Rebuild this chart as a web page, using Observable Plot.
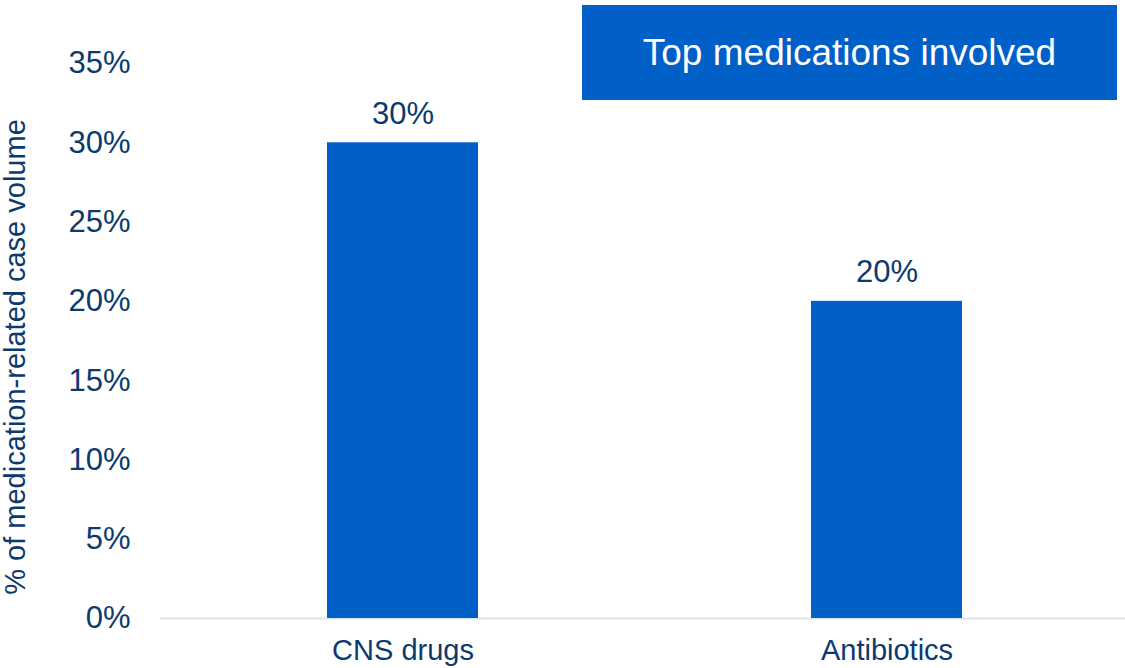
<!DOCTYPE html>
<html>
<head>
<meta charset="utf-8">
<script src="https://cdn.jsdelivr.net/npm/d3@7"></script>
<script src="https://cdn.jsdelivr.net/npm/@observablehq/plot@0.6"></script>
<style>
  html, body { margin: 0; padding: 0; background: #fff; }
  #wrap { position: relative; width: 1125px; height: 668px; font-family: "Liberation Sans", Arial, sans-serif; }
  #title { position: absolute; left: 582px; top: 5px; width: 535px; height: 95px; background: #0060C8; color: #fff;
           font-size: 37px; display: flex; align-items: center; justify-content: center; }
</style>
</head>
<body>
<div id="wrap">
  <div id="chart"></div>
  <div id="title">Top medications involved</div>
</div>
<script>
const categories = ["CNS drugs", "Antibiotics"];
const values = [30, 20];
const yTicks = [0, 5, 10, 15, 20, 25, 30, 35];
const titleText = "Top medications involved";
const yLabel = "% of medication-related case volume";

const data = categories.map((c, i) => ({category: c, value: values[i]}));
const textColor = "#0B3A6E";
const barColor = "#0060C8";

const chart = Plot.plot({
  width: 1125,
  height: 668,
  marginTop: 63,
  marginBottom: 50,
  marginLeft: 160,
  marginRight: -4,
  style: {fontFamily: "Liberation Sans, Arial, sans-serif", color: textColor, background: "white"},
  x: {domain: categories, paddingInner: 0.687, paddingOuter: 0.343, label: null},
  y: {domain: [0, 35], label: null},
  marks: [
    Plot.axisY({ticks: yTicks, tickFormat: d => d + "%", tickSize: 0, tickPadding: 30, fontSize: 31, fill: textColor, label: null}),
    Plot.axisX({tickSize: 0, tickPadding: 21, fontSize: 29, fill: textColor, label: null}),
    Plot.ruleY([0], {stroke: "#DCE6EF", strokeWidth: 2}),
    Plot.barY(data, {x: "category", y: "value", fill: barColor}),
    Plot.text(data, {x: "category", y: "value", text: d => d.value + "%", dy: -29, fontSize: 31, fill: textColor}),
    Plot.text([yLabel], {frameAnchor: "left", textAnchor: "middle", rotate: -90, dx: -145, dy: 16, fontSize: 29, fill: textColor})
  ]
});
document.getElementById("chart").appendChild(chart);
document.getElementById("title").textContent = titleText;
</script>
</body>
</html>
